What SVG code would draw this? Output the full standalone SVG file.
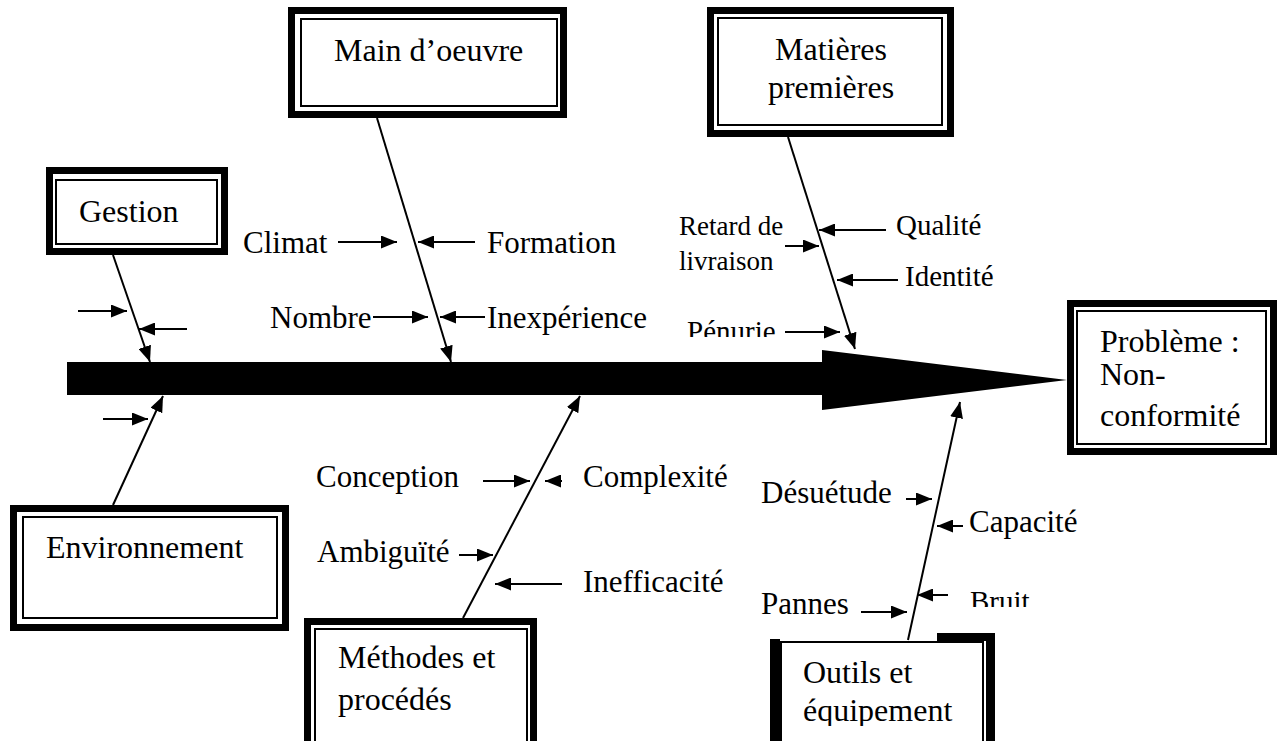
<svg xmlns="http://www.w3.org/2000/svg" width="1281" height="741" viewBox="0 0 1281 741">
<style>
text{font-family:"Liberation Serif","Times New Roman",serif;fill:#000;font-size:31px}
.box{font-size:32px}
.s27{font-size:27px}
.s29{font-size:29px}
.outer{fill:#fff;stroke:#000;stroke-width:7}
.inner{fill:none;stroke:#000;stroke-width:2}
.branch{stroke:#000;stroke-width:2;fill:none;marker-end:url(#ah)}
.sub{stroke:#000;stroke-width:2;fill:none;marker-end:url(#ah)}
</style>
<defs>
<marker id="ah" markerUnits="userSpaceOnUse" markerWidth="16" markerHeight="13" refX="16" refY="6.5" orient="auto">
<path d="M0,0 L16,6.5 L0,13 z" fill="#000"/>
</marker>
<clipPath id="clipPen"><rect x="600" y="300" width="200" height="37"/></clipPath>
<clipPath id="clipBruit"><rect x="960" y="570" width="100" height="37"/></clipPath>
<clipPath id="clipEq"><rect x="790" y="690" width="200" height="36"/></clipPath>
</defs>
<rect width="1281" height="741" fill="#fff"/>

<g id="spine">
<rect x="67" y="362" width="757" height="33" fill="#000"/>
<polygon points="822,350 1067,380 822,410" fill="#000"/>
</g>

<g id="connectors">
<line class="branch" x1="113" y1="255" x2="150" y2="362"/>
<line class="branch" x1="113" y1="505" x2="163" y2="396"/>
<line class="branch" x1="377" y1="118" x2="451" y2="362"/>
<line class="branch" x1="788" y1="137" x2="855" y2="349"/>
<line class="branch" x1="463" y1="618" x2="580" y2="396"/>
<line class="branch" x1="908" y1="640" x2="960" y2="402"/>

<line class="sub" x1="78" y1="311" x2="127" y2="311"/>
<line class="sub" x1="187" y1="329" x2="139" y2="329"/>
<line class="sub" x1="103" y1="419" x2="148" y2="419"/>

<line class="sub" x1="338" y1="242" x2="397" y2="242"/>
<line class="sub" x1="475" y1="242" x2="418" y2="242"/>
<line class="sub" x1="373" y1="317" x2="428" y2="317"/>
<line class="sub" x1="485" y1="317" x2="440" y2="317"/>

<line class="sub" x1="785" y1="246" x2="819" y2="246"/>
<line class="sub" x1="886" y1="230" x2="819" y2="230"/>
<line class="sub" x1="898" y1="280" x2="837" y2="280"/>
<line class="sub" x1="785" y1="332" x2="840" y2="332"/>

<line class="sub" x1="483" y1="481" x2="530" y2="481"/>
<line class="sub" x1="562" y1="481" x2="545" y2="481"/>
<line class="sub" x1="459" y1="555" x2="493" y2="555"/>
<line class="sub" x1="562" y1="584" x2="495" y2="584"/>

<line class="sub" x1="906" y1="499" x2="932" y2="499"/>
<line class="sub" x1="963" y1="526" x2="937" y2="526"/>
<line class="sub" x1="948" y1="595" x2="917" y2="595"/>
<line class="sub" x1="861" y1="612" x2="907" y2="612"/>
</g>

<g id="gestion">
<rect class="outer" x="49.5" y="170.5" width="175" height="81"/>
<rect class="inner" x="56" y="180" width="161" height="64"/>
<text class="box" x="79" y="222">Gestion</text>
</g>

<g id="main-oeuvre">
<rect class="outer" x="291.5" y="10.5" width="272" height="104"/>
<rect class="inner" x="301" y="19" width="256" height="87"/>
<text class="box" x="334" y="61">Main d’oeuvre</text>
</g>

<g id="matieres">
<rect class="outer" x="710.5" y="10.5" width="240" height="123"/>
<rect class="inner" x="718" y="18" width="224" height="107"/>
<text class="box" x="831" y="60" text-anchor="middle">Matières</text>
<text class="box" x="831" y="98" text-anchor="middle">premières</text>
</g>

<g id="probleme">
<rect class="outer" x="1070.5" y="303.5" width="203" height="148"/>
<rect class="inner" x="1077" y="311" width="189" height="133"/>
<text class="box" x="1100" y="352">Problème :</text>
<text class="box" x="1100" y="385">Non-</text>
<text class="box" x="1100" y="426">conformité</text>
</g>

<g id="environnement">
<rect class="outer" x="13.5" y="508.5" width="272" height="119"/>
<rect class="inner" x="23" y="517" width="254" height="101"/>
<text class="box" x="46" y="558">Environnement</text>
</g>

<g id="methodes">
<rect class="outer" x="307.5" y="621.5" width="226" height="140"/>
<rect class="inner" x="315" y="629" width="212" height="130"/>
<text class="box" x="338" y="668">Méthodes et</text>
<text class="box" x="338" y="710">procédés</text>
</g>

<g id="outils">
<rect x="770" y="639" width="10" height="110" fill="#000"/>
<rect x="937" y="633" width="58" height="8" fill="#000"/>
<rect x="986" y="633" width="9" height="120" fill="#000"/>
<rect class="inner" x="781" y="642" width="202" height="110"/>
<text class="box" x="803" y="683">Outils et</text>
<text class="box" x="803" y="721" clip-path="url(#clipEq)">équipement</text>
</g>

<g id="labels">
<text x="243" y="253">Climat</text>
<text x="487" y="253">Formation</text>
<text x="270" y="328">Nombre</text>
<text x="487" y="328">Inexpérience</text>
<text class="s27" x="679" y="235">Retard de</text>
<text class="s27" x="679" y="270">livraison</text>
<text class="s29" x="896" y="235">Qualité</text>
<text class="s29" x="905" y="286">Identité</text>
<text class="s29" x="687" y="341" clip-path="url(#clipPen)">Pénurie</text>
<text x="316" y="487">Conception</text>
<text x="583" y="487">Complexité</text>
<text x="317" y="562">Ambiguïté</text>
<text x="583" y="592">Inefficacité</text>
<text x="761" y="503">Désuétude</text>
<text x="969" y="532">Capacité</text>
<text x="761" y="614">Pannes</text>
<text class="s29" x="970" y="611" clip-path="url(#clipBruit)">Bruit</text>
</g>
</svg>
